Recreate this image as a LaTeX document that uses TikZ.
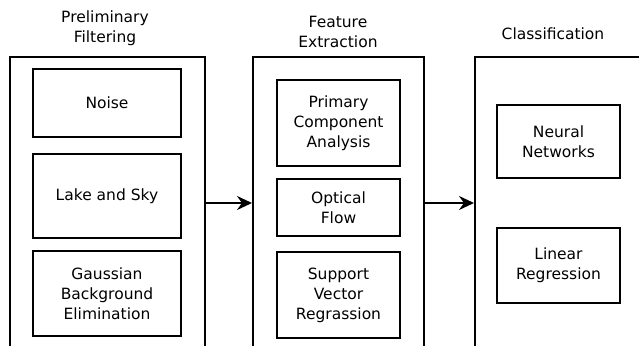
\documentclass[tikz,border=0pt]{standalone}
\usepackage{fontspec}
\setmainfont{DejaVu Sans}
\usetikzlibrary{arrows.meta}
\tikzset{
  stage/.style={draw,line width=2pt,minimum height=292pt},
  method/.style={draw,line width=2pt,align=center,inner sep=0pt,minimum width=#1},
  method/.default=123pt,
  heading/.style={align=center,inner sep=0pt},
  flow/.style={line width=2pt,-{Stealth[length=15pt,width=14pt,inset=5pt]}},
}
\begin{document}
\begin{tikzpicture}[x=1pt,y=-1pt,font=\fontsize{15.5}{20}\selectfont]
\clip (0,0) rectangle (639,345);
% the three stages, cut off at the bottom
\node[stage,minimum width=195pt] (filt) at (107.5,203) {};
\node[stage,minimum width=171pt] (feat) at (338.5,203) {};
\node[stage,minimum width=180pt] (clas) at (565,203) {};
\node[heading] (filtT) at (105,28.5) {Preliminary\\Filtering};
\node[heading] (featT) at (338,32) {Feature\\Extraction};
\node[heading] (clasT) at (553,34) {Classification};
% preliminary filtering
\node[method=148pt,minimum height=68pt] (noise) at (107,103) {Noise};
\node[method=148pt,minimum height=84pt] (lake) at (107,196) {Lake and Sky};
\node[method=148pt,minimum height=85pt] (gauss) at (107,293.5) {Gaussian\\Background\\Elimination};
% feature extraction
\node[method,minimum height=86pt] (pca) at (338.5,123) {Primary\\Component\\Analysis};
\node[method,minimum height=57pt] (optic) at (338.5,207.5) {Optical\\Flow};
\node[method,minimum height=86pt] (svr) at (338.5,295) {Support\\Vector\\Regrassion};
% classification
\node[method,minimum height=73pt] (nn) at (558.5,141.5) {Neural\\Networks};
\node[method,minimum height=75pt] (lin) at (558.5,265.5) {Linear\\Regression};
% stage to stage
\draw[flow] (filt.east) -- (feat.west);
\draw[flow] (feat.east) -- (clas.west);
\end{tikzpicture}
\end{document}
